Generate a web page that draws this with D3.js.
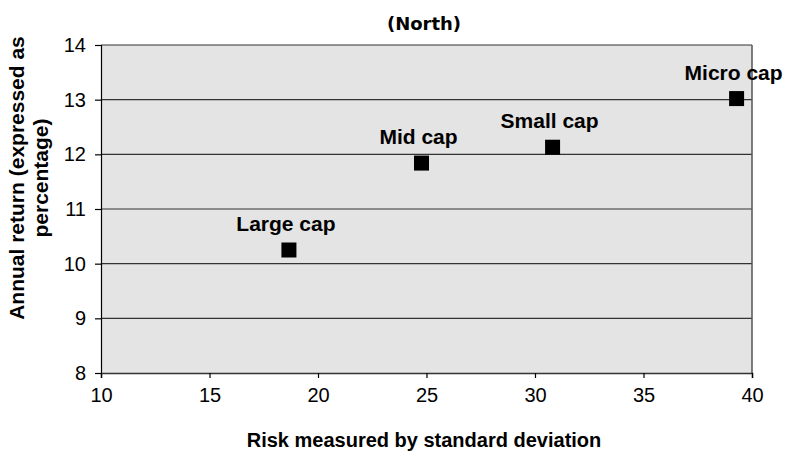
<!DOCTYPE html>
<html><head><meta charset="utf-8">
<script src="https://cdn.jsdelivr.net/npm/d3@7"></script>
<style>body{margin:0;background:#fff}svg{display:block}text{font-family:"Liberation Sans",Arial,sans-serif;fill:#000}</style>
</head><body>
<script>
const categories = ["Large cap", "Mid cap", "Small cap", "Micro cap"];
const riskValues = [18.66, 24.77, 30.81, 39.29];
const returnValues = [10.25, 11.84, 12.13, 13.02];
const xTicks = [10, 15, 20, 25, 30, 35, 40];
const yTicks = [8, 9, 10, 11, 12, 13, 14];
const title = "(North)";
const xTitle = "Risk measured by standard deviation";
const yTitleLines = ["Annual return (expressed as", "percentage)"];

const W = 788, H = 452;
const svg = d3.select("body").append("svg").attr("width", W).attr("height", H);
const x = d3.scaleLinear().domain([10, 40]).range([101, 752]);
const y = d3.scaleLinear().domain([8, 14]).range([373, 45]);

svg.append("rect").attr("x", x(10)).attr("y", y(14)).attr("width", x(40) - x(10)).attr("height", y(8) - y(14)).attr("fill", "#e4e4e4");

// gridlines
svg.append("g").selectAll("line").data(yTicks.filter(d => d > 8)).join("line")
  .attr("x1", x(10)).attr("x2", x(40)).attr("y1", d => y(d)).attr("y2", d => y(d))
  .attr("stroke", "#333").attr("stroke-width", 1.2);
// right border
svg.append("line").attr("x1", x(40)).attr("x2", x(40)).attr("y1", y(14)).attr("y2", y(8)).attr("stroke", "#555").attr("stroke-width", 1.5);

const yAxis = svg.append("g").attr("transform", `translate(${x(10)},0)`)
  .call(d3.axisLeft(y).tickValues(yTicks).tickSize(6).tickPadding(9).tickFormat(d3.format("d")));
yAxis.selectAll("text").style("font-size", "20px");
yAxis.selectAll("line,path").attr("stroke", "#000").attr("stroke-width", 1.2);

const xAxis = svg.append("g").attr("transform", `translate(0,${y(8)})`)
  .call(d3.axisBottom(x).tickValues(xTicks).tickSize(5).tickPadding(10).tickFormat(d3.format("d")));
xAxis.selectAll("text").style("font-size", "20px");
xAxis.selectAll("line,path").attr("stroke", "#000").attr("stroke-width", 1.2);
xAxis.select(".domain").attr("stroke", "#333").attr("stroke-width", 1.5);

const data = categories.map((c, i) => ({c, r: riskValues[i], v: returnValues[i]}));
const s = 15;
svg.append("g").selectAll("rect").data(data).join("rect")
  .attr("x", d => x(d.r) - s / 2).attr("y", d => y(d.v) - s / 2)
  .attr("width", s).attr("height", s).attr("fill", "#000");
svg.append("g").selectAll("text").data(data).join("text")
  .attr("x", d => x(d.r) - 3).attr("y", d => y(d.v) - 19)
  .attr("text-anchor", "middle").style("font-size", "21px").style("font-weight", "bold")
  .text(d => d.c);

svg.append("text").attr("x", 424).attr("y", 30).attr("text-anchor", "middle")
  .style("font-family", "'DejaVu Sans',sans-serif").style("font-size", "18px").style("font-weight", "bold").text(title);
svg.append("text").attr("x", 424).attr("y", 447).attr("text-anchor", "middle")
  .style("font-size", "20px").style("font-weight", "bold").text(xTitle);
svg.append("text").attr("transform", "translate(0,178) rotate(-90)")
  .attr("text-anchor", "middle").style("font-size", "21px").style("font-weight", "bold")
  .selectAll("tspan").data(yTitleLines).join("tspan")
  .attr("x", 0).attr("y", (d, i) => 24 + i * 24).text(d => d);
</script>
</body></html>
